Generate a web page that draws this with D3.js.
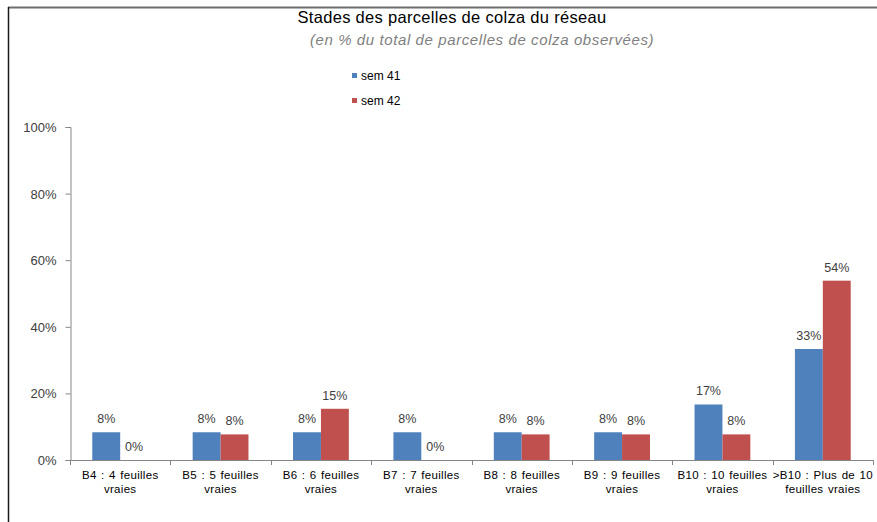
<!DOCTYPE html>
<html><head><meta charset="utf-8">
<script src="https://cdn.jsdelivr.net/npm/d3@7"></script>
<style>body{margin:0;background:#fff}svg{display:block}text{font-family:"Liberation Sans",Arial,sans-serif}</style>
</head><body>
<svg id="c" width="877" height="522"></svg>
<script>
const categories = [["B4 : 4 feuilles","vraies"],["B5 : 5 feuilles","vraies"],["B6 : 6 feuilles","vraies"],["B7 : 7 feuilles","vraies"],["B8 : 8 feuilles","vraies"],["B9 : 9 feuilles","vraies"],["B10 : 10 feuilles","vraies"],[">B10 : Plus de 10","feuilles vraies"]];
const seriesNames = ["sem 41","sem 42"];
const sem41 = [8.33, 8.33, 8.33, 8.33, 8.33, 8.33, 16.67, 33.33];
const sem42 = [0, 7.69, 15.38, 0, 7.69, 7.69, 7.69, 53.85];
const yTicks = [0, 20, 40, 60, 80, 100];
const colors = ["#4F81BD", "#C0504D"];

const svg = d3.select("#c");
// frame
svg.append("line").attr("x1",8).attr("x2",877).attr("y1",7.5).attr("y2",7.5).attr("stroke","#6d6d6d").attr("stroke-width",2);
svg.append("line").attr("x1",8.5).attr("x2",8.5).attr("y1",7).attr("y2",522).attr("stroke","#1a1a1a").attr("stroke-width",1.5);

svg.append("text").attr("x",452).attr("y",23).attr("text-anchor","middle").attr("font-size",16.5).attr("letter-spacing",0.3).attr("fill","#000").text("Stades des parcelles de colza du réseau");
svg.append("text").attr("x",482).attr("y",45).attr("text-anchor","middle").attr("font-size",15).attr("letter-spacing",0.6).attr("font-style","italic").attr("fill","#7f7f7f").text("(en %  du total de parcelles de colza observées)");

const x0 = d3.scaleBand().domain(d3.range(categories.length)).range([70, 873]).padding(0);
const x1 = d3.scaleBand().domain([0,1]).range([0.222*x0.bandwidth(), 0.778*x0.bandwidth()]);
const y = d3.scaleLinear().domain([0,100]).range([460,127]);

// y axis
const ya = svg.append("g").attr("transform","translate(70.5,0)").call(d3.axisLeft(y).tickValues(yTicks).tickSize(5).tickFormat(d=>d+"%"));
ya.select(".domain").attr("stroke","#868686");
ya.selectAll(".tick line").attr("stroke","#868686");
ya.selectAll(".tick text").attr("font-size",13).attr("fill","#404040").attr("font-family","Liberation Sans, Arial, sans-serif").attr("x",-14).attr("dy","0.35em");

const data = [sem41, sem42];
const g = svg.append("g");
categories.forEach((c,i)=>{
  data.forEach((s,j)=>{
    const v = s[i];
    const bx = x0(i)+x1(j);
    g.append("rect").attr("x",bx).attr("y",y(v)).attr("width",x1.bandwidth()).attr("height",y(0)-y(v)).attr("fill",colors[j]);
    g.append("text").attr("x",bx+x1.bandwidth()/2).attr("y",y(v)-9).attr("text-anchor","middle").attr("font-size",12.5).attr("fill","#404040").text(Math.round(v)+"%");
  });
});

// x axis
svg.append("line").attr("x1",66).attr("x2",873).attr("y1",460.5).attr("y2",460.5).attr("stroke","#868686");
d3.range(categories.length+1).forEach(i=>{
  const xx = Math.round(70 + i*x0.bandwidth())+0.5;
  svg.append("line").attr("x1",xx).attr("x2",xx).attr("y1",460).attr("y2",465).attr("stroke","#868686");
});
categories.forEach((c,i)=>{
  const t = svg.append("text").attr("text-anchor","middle").attr("font-size",11.5).attr("letter-spacing",0.3).attr("word-spacing",1).attr("fill","#000");
  c.forEach((line,k)=>{
    t.append("tspan").attr("x",x0(i)+x0.bandwidth()/2).attr("y",479+k*14).text(line);
  });
});

// legend
seriesNames.forEach((n,j)=>{
  const ly = 76 + j*25;
  svg.append("rect").attr("x",352).attr("y",ly-3).attr("width",5).attr("height",5).attr("fill",colors[j]);
  svg.append("text").attr("x",361).attr("y",ly+4).attr("font-size",12).attr("fill","#000").text(n);
});
</script>
</body></html>
